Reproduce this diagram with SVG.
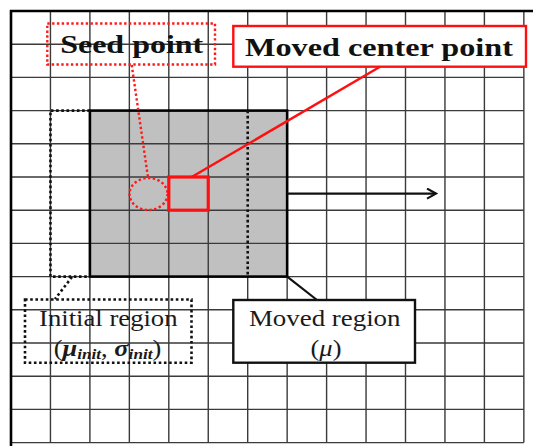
<svg xmlns="http://www.w3.org/2000/svg" width="533" height="446" viewBox="0 0 533 446">
<style>
.grid{stroke:#3a3a3a;stroke-width:1.4;fill:none}
.lbl{font-family:"Liberation Serif","Times New Roman",serif;fill:#1a1a1a}
.bold{font-weight:bold;fill:#111}
.dotk{stroke:#111;stroke-width:2.6;stroke-dasharray:2.6 2.6;fill:none}
.dotr{stroke:#ff1a1a;stroke-width:2.4;stroke-dasharray:2.4 2.4;fill:none}
</style>
<defs>
<marker id="arr" markerWidth="14" markerHeight="12" refX="11" refY="6" orient="auto" markerUnits="userSpaceOnUse">
<path d="M2,1 L11,6 L2,11" fill="none" stroke="#111" stroke-width="2.2"/>
</marker>
</defs>
<rect width="533" height="446" fill="#fff"/>
<g id="grid">
<path class="grid" d="M50.45,11V442.6M89.9,11V442.6M129.35,11V442.6M168.8,11V442.6M208.25,11V442.6M247.7,11V442.6M287.15,11V442.6M326.6,11V442.6M366.05,11V442.6M405.5,11V442.6M444.95,11V442.6M484.4,11V442.6M523.85,11V442.6"/>
<path class="grid" d="M11,44.2H523.85M11,77.4H523.85M11,110.6H523.85M11,143.8H523.85M11,177H523.85M11,210.2H523.85M11,243.4H523.85M11,276.6H523.85M11,309.8H523.85M11,343H523.85M11,376.2H523.85M11,409.4H523.85M11,442.6H523.85"/>
<path d="M11,446V11H533" fill="none" stroke="#000" stroke-width="2.6"/>
</g>
<g id="moved-region-area">
<rect x="89.9" y="110.6" width="197.25" height="166" fill="#c0c0c0"/>
<path class="grid" d="M129.35,110.6V276.6M168.8,110.6V276.6M208.25,110.6V276.6M89.9,143.8H287.15M89.9,177H287.15M89.9,210.2H287.15M89.9,243.4H287.15"/>
<rect x="89.9" y="110.6" width="197.25" height="166" fill="none" stroke="#000" stroke-width="2.6"/>
</g>
<g id="initial-region-area">
<path class="dotk" d="M89.9,110.6H50.45V276.6H89.9M247.7,110.6V276.6"/>
</g>
<g id="seed-point">
<ellipse cx="148.5" cy="194" rx="19" ry="16" class="dotr"/>
</g>
<g id="moved-center-point">
<rect x="168.8" y="177" width="39.45" height="33.2" fill="none" stroke="#ff1010" stroke-width="3.2"/>
</g>
<g id="connectors">
<path class="dotr" d="M131.7,65L148,177.5"/>
<path d="M191.7,177L380,66.7" fill="none" stroke="#ff1010" stroke-width="2.4"/>
<path d="M287.15,193.6H436" fill="none" stroke="#111" stroke-width="2.2" marker-end="url(#arr)"/>
<path d="M287.15,276.6L317,300" fill="none" stroke="#111" stroke-width="2.2"/>
<path class="dotk" d="M72,277L55,299"/>
</g>
<g id="seed-label">
<rect x="47.3" y="23.5" width="167.7" height="41" fill="#fff" class="dotr"/>
<text class="lbl bold" font-size="26" text-anchor="middle" transform="translate(131.7,53) scale(1.23,1)">Seed point</text>
</g>
<g id="moved-center-label">
<rect x="233.3" y="26" width="292.7" height="40.7" fill="#fff" stroke="#ff1010" stroke-width="2.4"/>
<text class="lbl bold" font-size="26" text-anchor="middle" transform="translate(379,56.3) scale(1.24,1)">Moved center point</text>
</g>
<g id="initial-region-label">
<rect x="25" y="299.5" width="166.5" height="63.3" fill="#fff" class="dotk"/>
<text class="lbl" font-size="23" text-anchor="middle" transform="translate(108.3,325.5) scale(1.16,1)">Initial region</text>
<text class="lbl" font-size="23" text-anchor="middle" transform="translate(107.5,356) scale(1.15,1)">(<tspan font-style="italic" font-weight="bold">μ</tspan><tspan font-style="italic" font-weight="bold" font-size="15" dy="3">init</tspan><tspan dy="-3">, </tspan><tspan font-style="italic" font-weight="bold">σ</tspan><tspan font-style="italic" font-weight="bold" font-size="15" dy="3">init</tspan><tspan dy="-3">)</tspan></text>
</g>
<g id="moved-region-label">
<rect x="233.3" y="300" width="181.7" height="62.7" fill="#fff" stroke="#111" stroke-width="2.4"/>
<text class="lbl" font-size="23" text-anchor="middle" transform="translate(324.7,325.5) scale(1.17,1)">Moved region</text>
<text class="lbl" font-size="23" text-anchor="middle" transform="translate(326,356) scale(1.15,1)">(<tspan font-style="italic">μ</tspan>)</text>
</g>
</svg>
